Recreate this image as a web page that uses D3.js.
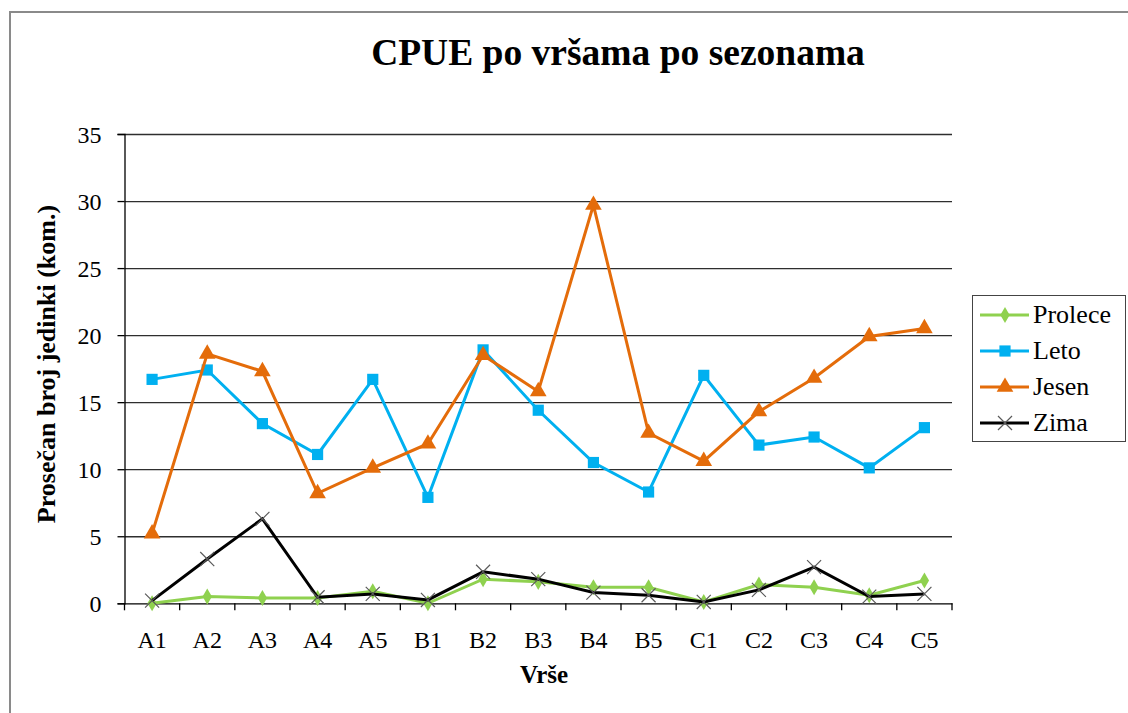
<!DOCTYPE html>
<html>
<head>
<meta charset="utf-8">
<script src="https://cdn.jsdelivr.net/npm/d3@7"></script>
<style>
  html, body { margin: 0; padding: 0; background: #fff; }
  svg { display: block; }
  text { font-family: "Liberation Serif", "Times New Roman", serif; fill: #000; }
</style>
</head>
<body>
<svg id="chart" width="1128" height="713"></svg>
<script>
// Sampling sites (traps) along the x axis
const categories = ["A1","A2","A3","A4","A5","B1","B2","B3","B4","B5","C1","C2","C3","C4","C5"];

// Mean catch per trap for each season
const prolece = [0.0, 0.5, 0.4, 0.4, 0.9, 0.0, 1.8, 1.6, 1.2, 1.2, 0.1, 1.4, 1.2, 0.6, 1.7];
const leto    = [16.7, 17.4, 13.4, 11.1, 16.7, 7.9, 18.9, 14.4, 10.5, 8.3, 17.0, 11.8, 12.4, 10.1, 13.1];
const jesen   = [5.2, 18.6, 17.3, 8.2, 10.1, 11.9, 18.5, 15.8, 29.7, 12.7, 10.6, 14.3, 16.8, 19.9, 20.5];
const zima    = [0.2, 3.3, 6.3, 0.45, 0.7, 0.25, 2.35, 1.8, 0.8, 0.6, 0.1, 1.0, 2.7, 0.5, 0.7];

const yTicks = [0, 5, 10, 15, 20, 25, 30, 35];

const seriesNames = ["Prolece", "Leto", "Jesen", "Zima"];

const svg = d3.select("#chart");

// Outer chart frame
svg.append("rect")
  .attr("x", 10).attr("y", 12)
  .attr("width", 1140).attr("height", 720)
  .attr("fill", "none").attr("stroke", "#8a8a8a").attr("stroke-width", 2);

const plot = { left: 124.5, right: 952, top: 134, bottom: 603.3 };

const x = d3.scaleBand().domain(categories).range([plot.left, plot.right]);
const y = d3.scaleLinear().domain([0, 35]).range([plot.bottom, plot.top]);
const cx = c => x(c) + x.bandwidth() / 2;

// Horizontal gridlines
svg.append("g")
  .attr("transform", `translate(${plot.left},0)`)
  .call(d3.axisLeft(y).tickValues(yTicks.filter(v => v > 0)).tickSize(-(plot.right - plot.left)).tickFormat(""))
  .call(g => g.select(".domain").remove())
  .call(g => g.selectAll(".tick line").attr("stroke", "#2e2e2e").attr("stroke-width", 1.3));

// Y axis
svg.append("g")
  .attr("transform", `translate(${plot.left},0)`)
  .call(d3.axisLeft(y).tickValues(yTicks).tickSize(7).tickPadding(16).tickFormat(d3.format("d")))
  .call(g => g.select(".domain").attr("stroke", "#000").attr("stroke-width", 1.3))
  .call(g => g.selectAll(".tick line").attr("stroke", "#000").attr("stroke-width", 1.3))
  .call(g => g.selectAll(".tick text")
    .attr("font-family", "Liberation Serif, serif").attr("font-size", 24).attr("fill", "#111").attr("dy", "0.34em"));

// X axis: baseline, boundary ticks, centred labels
const xAxis = svg.append("g").attr("transform", `translate(0,${plot.bottom})`);
xAxis.call(d3.axisBottom(x).tickSize(0).tickPadding(0).tickFormat(""))
  .call(g => g.select(".domain").attr("stroke", "#000").attr("stroke-width", 1.3));
const bounds = categories.map(c => x(c)).concat([plot.right]);
xAxis.selectAll("line.bound").data(bounds).join("line")
  .attr("class", "bound")
  .attr("x1", d => d).attr("x2", d => d)
  .attr("y1", 0).attr("y2", 7)
  .attr("stroke", "#000").attr("stroke-width", 1.3);
svg.append("g").selectAll("text").data(categories).join("text")
  .attr("x", d => cx(d)).attr("y", 648)
  .attr("text-anchor", "middle").attr("font-size", 24).attr("fill", "#111")
  .text(d => d);

// Titles
svg.append("text")
  .attr("x", 618).attr("y", 65)
  .attr("text-anchor", "middle").attr("font-size", 37.5).attr("font-weight", "bold")
  .text("CPUE po vršama po sezonama");

svg.append("text")
  .attr("x", 544).attr("y", 683)
  .attr("text-anchor", "middle").attr("font-size", 25).attr("font-weight", "bold")
  .text("Vrše");

svg.append("text")
  .attr("transform", "translate(55,364) rotate(-90)")
  .attr("text-anchor", "middle").attr("font-size", 26).attr("font-weight", "bold")
  .text("Prosečan broj jedinki (kom.)");

// Series styling
const styles = {
  Prolece: { color: "#8fd14f", values: prolece, symbol: d3.symbolDiamond, size: 75, width: 3 },
  Leto:    { color: "#00b0f0", values: leto,    symbol: d3.symbolSquare,  size: 125, width: 3 },
  Jesen:   { color: "#e46c0a", values: jesen,   symbol: d3.symbolTriangle, size: 120, width: 3 },
  Zima:    { color: "#000000", values: zima,    symbol: d3.symbolX,       size: 130, width: 3 }
};

const line = d3.line().x(d => cx(d.c)).y(d => y(d.v));

function drawMarker(sel, name) {
  const s = styles[name];
  if (name === "Zima") {
    sel.append("path")
      .attr("d", d3.symbol(d3.symbolX, s.size)())
      .attr("fill", "none").attr("stroke", "#5a5a5a").attr("stroke-width", 1.2);
  } else {
    sel.append("path")
      .attr("d", d3.symbol(s.symbol, s.size)())
      .attr("fill", s.color);
  }
}

seriesNames.forEach(name => {
  const s = styles[name];
  const pts = categories.map((c, i) => ({ c, v: s.values[i] }));
  const g = svg.append("g");
  g.append("path")
    .datum(pts)
    .attr("d", line)
    .attr("fill", "none")
    .attr("stroke", s.color)
    .attr("stroke-width", s.width)
    .attr("stroke-linejoin", "miter");
  g.selectAll("g.mk").data(pts).join("g")
    .attr("class", "mk")
    .attr("transform", d => `translate(${cx(d.c)},${y(d.v)})`)
    .each(function () { drawMarker(d3.select(this), name); });
});

// Legend
const legend = svg.append("g");
legend.append("rect")
  .attr("x", 972.5).attr("y", 295.5).attr("width", 153).attr("height", 146)
  .attr("fill", "#fff").attr("stroke", "#444").attr("stroke-width", 1);
seriesNames.forEach((name, i) => {
  const s = styles[name];
  const ly = 315 + i * 36;
  legend.append("line")
    .attr("x1", 980).attr("x2", 1029).attr("y1", ly).attr("y2", ly)
    .attr("stroke", s.color).attr("stroke-width", 3);
  const mk = legend.append("g").attr("transform", `translate(1005,${ly})`);
  drawMarker(mk, name);
  legend.append("text")
    .attr("x", 1033).attr("y", ly + 8)
    .attr("font-size", 26)
    .text(name);
});
</script>
</body>
</html>
